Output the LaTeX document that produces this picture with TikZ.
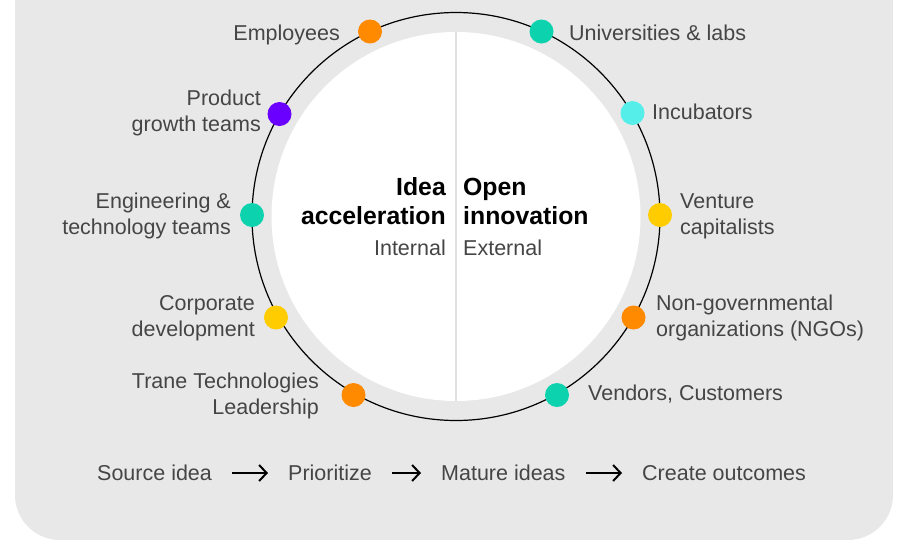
\documentclass[tikz,border=0pt]{standalone}
\usepackage{fontspec}
\setmainfont{Liberation Sans}
\usetikzlibrary{arrows.meta}

\definecolor{bggray}{HTML}{E8E8E8}
\definecolor{splitgray}{HTML}{E0E0E0}
\definecolor{txtgray}{HTML}{454545}
\definecolor{dotorange}{HTML}{FF8A00}
\definecolor{dotteal}{HTML}{0CD2AE}
\definecolor{dotpurple}{HTML}{6A00FF}
\definecolor{dotcyan}{HTML}{55EEE8}
\definecolor{dotyellow}{HTML}{FFCC00}

\tikzset{
	ringdot/.style={circle, fill=#1, minimum size=24pt, inner sep=0pt},
	lbl/.style={inner sep=0pt, text=txtgray, font=\fontsize{21.5}{26}\selectfont},
	headline/.style={inner sep=0pt, font=\fontsize{24.8}{29}\selectfont\bfseries},
	flow/.style={line width=2pt, shorten <=20pt, shorten >=20pt, -{Straight Barb[length=7.5pt, width=16pt]}}
}

\begin{document}
\begin{tikzpicture}[x=1pt, y=-1pt]

\useasboundingbox (0, 0) rectangle (908, 539);
\fill[white] (0, 0) rectangle (908, 539);
\fill[bggray, rounded corners=45pt] (15, -60) rectangle (893, 540);

\node(ring) [circle, draw, line width=1.2pt, minimum size=408pt, inner sep=0pt] at (456, 216.5) {};
\node(core) [circle, fill=white, minimum size=369pt, inner sep=0pt] at (456, 216.5) {};
\draw[splitgray, line width=2pt] (core.north) -- (core.south);

\node(in) [headline, align=right, anchor=east] at (446, 201) {Idea\\acceleration};
\node [lbl, anchor=east] at (446, 248) {Internal};
\node(ex) [headline, align=left, anchor=west] at (463, 201) {Open\\innovation};
\node [lbl, anchor=west] at (463, 248) {External};

\node(d1) [ringdot=dotorange] at (370, 31.5) {};
\node(d2) [ringdot=dotpurple] at (279.5, 114) {};
\node(d3) [ringdot=dotteal] at (252, 215) {};
\node(d4) [ringdot=dotyellow] at (276, 317.5) {};
\node(d5) [ringdot=dotorange] at (353.5, 395) {};
\node(d6) [ringdot=dotteal] at (541.5, 31.5) {};
\node(d7) [ringdot=dotcyan] at (632.5, 113) {};
\node(d8) [ringdot=dotyellow] at (660, 215) {};
\node(d9) [ringdot=dotorange] at (633.5, 317.5) {};
\node(d10) [ringdot=dotteal] at (557, 395) {};

\node [lbl, anchor=east] at (340, 35) {Employees};
\node [lbl, align=right, anchor=east] at (261, 113) {Product\\growth teams};
\node [lbl, align=right, anchor=east] at (231, 215.5) {Engineering \&\\technology teams};
\node [lbl, align=right, anchor=east] at (255, 318) {Corporate\\development};
\node [lbl, align=right, anchor=east] at (319, 396) {Trane Technologies\\Leadership};

\node [lbl, anchor=west] at (569, 33) {Universities \& labs};
\node [lbl, anchor=west] at (652, 112) {Incubators};
\node [lbl, align=left, anchor=west] at (680, 216) {Venture\\capitalists};
\node [lbl, align=left, anchor=west] at (656, 318) {Non-governmental\\organizations (NGOs)};
\node [lbl, anchor=west] at (588, 394) {Vendors, Customers};

\node(s1) [lbl, anchor=west] at (97, 473) {Source idea};
\node(s2) [lbl, anchor=west] at (288, 473) {Prioritize};
\node(s3) [lbl, anchor=west] at (441, 473) {Mature ideas};
\node(s4) [lbl, anchor=west] at (642, 473) {Create outcomes};

\draw [flow] (s1) -- (s2);
\draw [flow] (s2) -- (s3);
\draw [flow] (s3) -- (s4);

\end{tikzpicture}
\end{document}
